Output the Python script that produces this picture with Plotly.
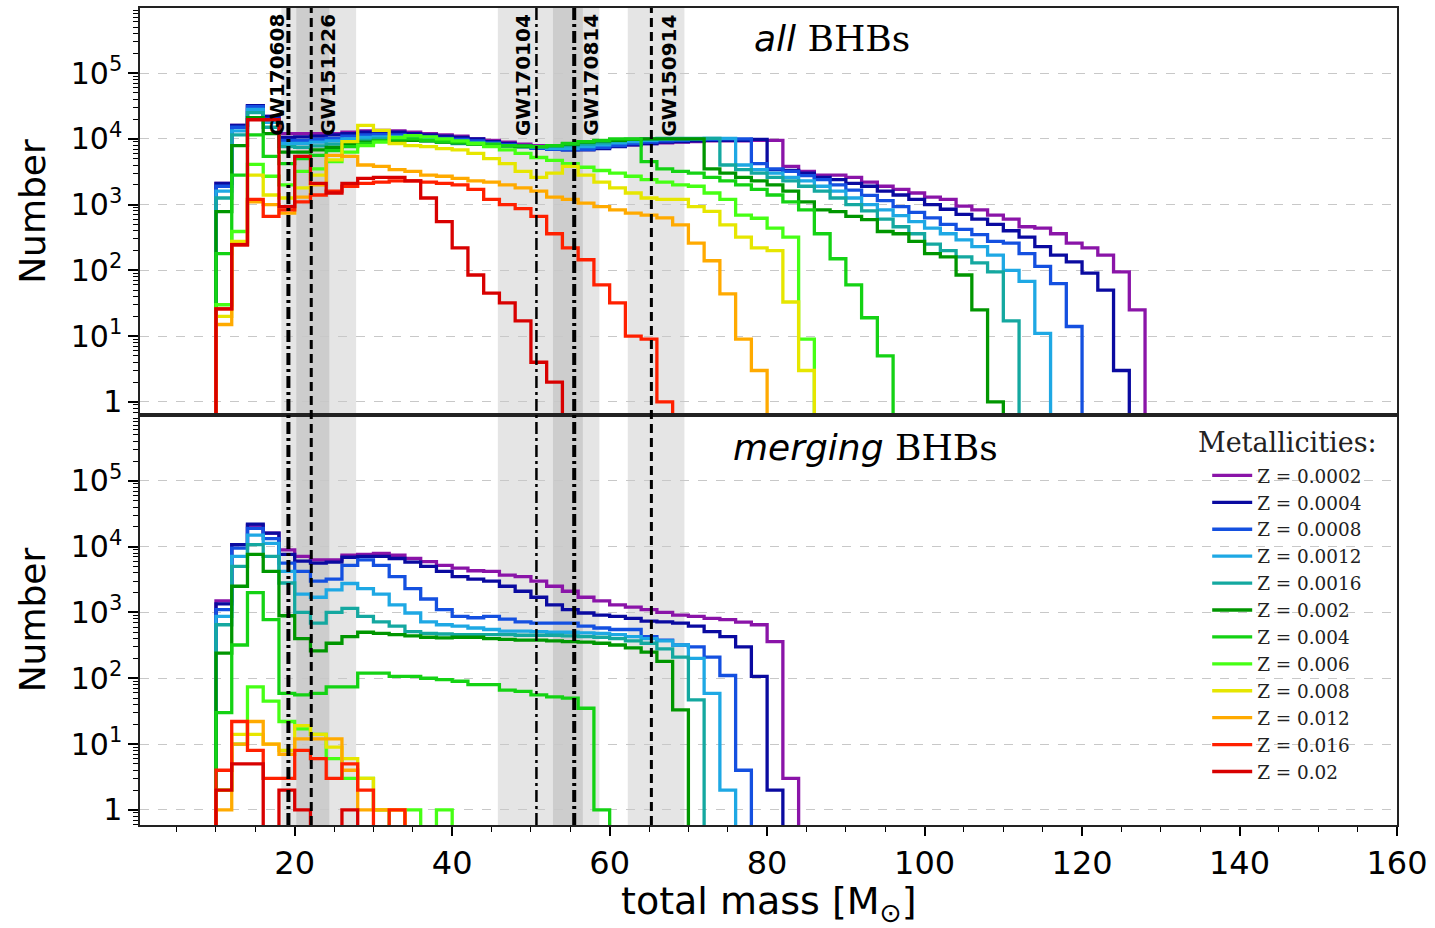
import plotly.graph_objects as go
from plotly.subplots import make_subplots

# ---------------------------------------------------------------- data
bin_start = 10      # first bin edge [M_sun]
bin_width = 2       # histogram bin width [M_sun]

metallicity_labels = ["Z = 0.0002", "Z = 0.0004", "Z = 0.0008", "Z = 0.0012",
                      "Z = 0.0016", "Z = 0.002", "Z = 0.004", "Z = 0.006",
                      "Z = 0.008", "Z = 0.012", "Z = 0.016", "Z = 0.02"]

# ---- all BHBs: counts per 2 M_sun bin, starting at 10 M_sun
all_Z0002 = [2100, 16000, 32000, 22000, 12000, 12000, 12000, 12000, 12600, 13200,
             13500, 13200, 12600, 12000, 11500, 11000, 10000, 9500, 8900, 8300,
             7900, 7600, 7200, 7200, 7400, 7800, 8100, 8500, 8700, 8900,
             9100, 9300, 9300, 9300, 9500, 9500, 3800, 3200, 2800, 2800,
             2600, 2200, 1900, 1700, 1500, 1300, 1200, 950, 830, 690,
             600, 460, 440, 360, 260, 220, 170, 95, 25]
all_Z0004 = [2100, 16000, 32000, 22000, 10500, 10700, 11000, 11500, 12000, 12600,
             12900, 12600, 12000, 11500, 11000, 10500, 10000, 9100, 8500, 7900,
             7400, 7100, 6800, 6800, 7100, 7600, 8100, 8500, 8900, 9100,
             9300, 9500, 9500, 9500, 9800, 3400, 3300, 3000, 2600, 2400,
             2100, 1900, 1600, 1400, 1200, 1000, 850, 710, 600, 500,
             400, 320, 230, 170, 135, 91, 50, 3]
all_Z0008 = [1900, 15000, 31000, 20000, 9500, 9500, 9800, 10200, 11000, 11500,
             11700, 11500, 11200, 10700, 10200, 9800, 9300, 8700, 8100, 7600,
             7200, 6900, 6800, 6900, 7400, 7900, 8500, 8900, 9300, 9500,
             9800, 9800, 10000, 10000, 4200, 3500, 3200, 2750, 2400, 2000,
             1660, 1380, 1150, 930, 760, 630, 500, 420, 350, 275,
             260, 180, 115, 63, 14]
all_Z0012 = [1600, 13200, 28000, 17800, 8500, 8500, 8900, 9300, 10000, 10500,
             10700, 10700, 10500, 10000, 9500, 9100, 8700, 8300, 7900, 7600,
             7400, 7200, 7200, 7600, 8100, 8700, 9100, 9500, 9800, 10000,
             10000, 10200, 10200, 4000, 3400, 3000, 2600, 2300, 1900, 1600,
             1260, 1000, 830, 680, 550, 440, 360, 290, 230, 170,
             100, 68, 11]
all_Z0016 = [1260, 11500, 25000, 15000, 7600, 7400, 7800, 8300, 8900, 9500,
             10000, 10000, 9800, 9300, 8900, 8500, 8300, 7900, 7800, 7600,
             7600, 7800, 7900, 8300, 8700, 9300, 9800, 10000, 10200, 10200,
             10200, 10200, 4000, 3400, 3000, 2600, 2300, 1900, 1600, 1260,
             1000, 800, 600, 460, 360, 250, 200, 160, 130, 95,
             17]
all_Z002 = [780, 7900, 21000, 12000, 6300, 6300, 6800, 7400, 8300, 8900,
            9300, 9500, 9500, 9300, 8900, 8700, 8300, 7900, 7800, 7600,
            7600, 7900, 8300, 8900, 9300, 9500, 9800, 10000, 10000, 10000,
            10000, 3500, 3000, 2600, 2300, 2000, 1600, 1100, 830, 780,
            660, 590, 390, 360, 275, 180, 160, 85, 25, 1]
all_Z004 = [180, 2800, 11500, 5400, 4200, 5000, 5600, 6600, 7600, 8500,
            9300, 10000, 10000, 9500, 9100, 8900, 8500, 8300, 7900, 7800,
            7600, 7900, 8500, 9100, 9500, 10000, 10000, 4500, 3500, 3200,
            3000, 2600, 2300, 2000, 1700, 1400, 1100, 830, 360, 150,
            60, 19, 5]
all_Z006 = [30, 390, 4100, 2700, 2000, 3200, 3500, 4500, 6300, 7900,
            8900, 10500, 11200, 10700, 10000, 9300, 8500, 7600, 6800, 6000,
            5200, 4700, 4200, 3700, 3300, 3000, 2700, 2400, 2200, 2000,
            1900, 1500, 1200, 690, 620, 440, 320, 9]
all_Z008 = [20, 275, 2800, 1400, 1260, 1800, 2800, 4800, 9100, 16000,
            13500, 8500, 7900, 7600, 7100, 6800, 6000, 5000, 4200, 3200,
            2600, 3000, 3800, 2800, 2200, 1800, 1500, 1260, 1200, 1200,
            930, 790, 490, 320, 220, 200, 33, 3]
all_Z012 = [15, 250, 1100, 1000, 740, 1300, 2000, 5600, 5400, 4000,
            3800, 3400, 3200, 2800, 2700, 2500, 2300, 2200, 2000, 1800,
            1600, 1300, 1200, 1050, 930, 830, 740, 690, 630, 490,
            260, 140, 44, 9, 3]
all_Z016 = [26, 245, 1200, 660, 830, 1100, 1400, 1600, 1900, 2100,
            2200, 2300, 2300, 2200, 2100, 2000, 1700, 1200, 1000, 870,
            660, 360, 220, 145, 60, 32, 10, 9, 1]
all_Z02 = [26, 245, 19500, 19500, 930, 5400, 2100, 1500, 2100, 2500,
           2600, 2600, 2300, 1260, 550, 220, 85, 45, 32, 17,
           4, 2]

# ---- merging BHBs: counts per 2 M_sun bin, starting at 10 M_sun
merging_Z0002 = [1500, 10700, 21000, 16000, 8900, 7100, 6300, 6300, 7400, 7600,
                 7900, 7400, 6600, 5900, 5200, 4700, 4300, 4200, 3700, 3500,
                 3000, 2500, 2100, 1700, 1500, 1300, 1200, 1100, 1000, 910,
                 870, 810, 780, 710, 650, 360, 3]
merging_Z0004 = [1350, 10700, 22000, 16000, 7600, 6000, 5600, 5800, 6900, 7100,
                 7100, 6600, 5800, 5000, 4200, 3500, 3200, 3000, 2500, 2100,
                 1700, 1300, 1100, 980, 910, 870, 810, 740, 720, 690,
                 620, 510, 430, 300, 107, 2]
merging_Z0008 = [1100, 9500, 19000, 13200, 5600, 4200, 3000, 3200, 5200, 6300,
                 5200, 3500, 2300, 1600, 1100, 870, 830, 870, 790, 720,
                 690, 690, 690, 620, 580, 550, 550, 430, 380, 320,
                 300, 210, 110, 4]
merging_Z0012 = [870, 7100, 15000, 11200, 4200, 1900, 1700, 2200, 2750, 2300,
                 1900, 1300, 980, 720, 650, 620, 580, 550, 520, 520,
                 510, 500, 500, 490, 480, 460, 430, 400, 370, 320,
                 200, 59, 2]
merging_Z0016 = [650, 5000, 10700, 7100, 2800, 1000, 690, 1000, 1150, 870,
                 720, 620, 510, 480, 470, 460, 460, 460, 460, 450,
                 450, 450, 440, 430, 420, 400, 370, 340, 280, 210,
                 47]
merging_Z002 = [240, 2500, 7600, 4200, 890, 400, 260, 340, 430, 500,
                480, 460, 440, 420, 410, 420, 420, 400, 390, 380,
                380, 370, 360, 355, 340, 320, 290, 250, 180, 33]
merging_Z004 = [30, 320, 2000, 780, 59, 56, 59, 74, 74, 120,
                120, 107, 107, 100, 95, 90, 80, 80, 66, 63,
                56, 52, 50, 35, 1]
merging_Z006 = [2, 10, 74, 45, 22, 17, 14, 6, 3, 3, 1, 0, 1, 0, 1]
merging_Z008 = [2, 14, 14, 10, 8, 19, 14, 9, 6, 3, 1, 1]
merging_Z012 = [1, 10, 22, 10, 7, 12, 12, 12, 4, 1, 1, 1]
merging_Z016 = [4, 22, 8, 3, 3, 8, 6, 3, 5, 2, 0, 1]
merging_Z02 = [2, 5, 5, 0, 2, 1, 0, 0, 1]

all_series = [all_Z0002, all_Z0004, all_Z0008, all_Z0012, all_Z0016, all_Z002,
              all_Z004, all_Z006, all_Z008, all_Z012, all_Z016, all_Z02]
merging_series = [merging_Z0002, merging_Z0004, merging_Z0008, merging_Z0012,
                  merging_Z0016, merging_Z002, merging_Z004, merging_Z006,
                  merging_Z008, merging_Z012, merging_Z016, merging_Z02]

# ---- LIGO/Virgo events: total mass and credible interval [M_sun]
gw_names = ["GW170608", "GW151226", "GW170104", "GW170814", "GW150914"]
gw_total_mass = [19.2, 22.1, 50.7, 55.5, 65.3]
gw_mass_low = [18.3, 20.2, 45.8, 52.8, 62.3]
gw_mass_high = [24.4, 27.8, 56.6, 58.7, 69.5]

y_tick_values = [1, 10, 100, 1000, 10000, 100000]
y_tick_labels = ["1", "10<sup>1</sup>", "10<sup>2</sup>", "10<sup>3</sup>",
                 "10<sup>4</sup>", "10<sup>5</sup>"]
x_tick_values = [20, 40, 60, 80, 100, 120, 140, 160]

# ---------------------------------------------------------------- style
colors = ["#8a14a8", "#0a0aa0", "#1450e0", "#1ea8e4", "#14a8a0", "#009600",
          "#14d214", "#46ff14", "#e6e600", "#ffaa00", "#ff2000", "#d80000"]
gw_dash = ["12px,4px,3px,4px", "9px,5px", "12px,4px,3px,4px",
           "12px,4px,3px,4px", "9px,5px"]
gw_width = [4, 3, 2.5, 4, 3]
gw_label_offset = [-1.5, 2.1, -1.7, 2.1, 2.3]
FLOOR = 0.1
SANS = "DejaVu Sans"
SERIF = "DejaVu Serif"


def step_xy(counts):
    edges = [bin_start + bin_width * i for i in range(len(counts) + 1)]
    xs = [edges[0]] + edges
    ys = [FLOOR] + [c if c > 0 else FLOOR for c in counts] + [FLOOR]
    return xs, ys


fig = make_subplots(rows=2, cols=1, shared_xaxes=True, vertical_spacing=0,
                    row_heights=[407, 410])

for i, label in enumerate(metallicity_labels):
    for row, data in ((1, all_series[i]), (2, merging_series[i])):
        xs, ys = step_xy(data)
        fig.add_trace(go.Scatter(x=xs, y=ys, mode="lines", name=label,
                                 line=dict(color=colors[i], width=3.3, shape="hv"),
                                 showlegend=(row == 2), legendgroup=label,
                                 hoverinfo="skip"),
                      row=row, col=1)

# shaded credible intervals (both panels)
for lo, hi in zip(gw_mass_low, gw_mass_high):
    for xr, yr in (("x", "y domain"), ("x2", "y2 domain")):
        fig.add_shape(type="rect", xref=xr, yref=yr, x0=lo, x1=hi, y0=0, y1=1,
                      fillcolor="rgba(0,0,0,0.1)", line_width=0, layer="below")

# event lines and labels
for name, m, dash, w, off in zip(gw_names, gw_total_mass, gw_dash, gw_width,
                                 gw_label_offset):
    fig.add_shape(type="line", xref="x2", yref="paper", x0=m, x1=m, y0=0, y1=1,
                  line=dict(color="black", width=w, dash=dash), layer="above")
    fig.add_annotation(x=m + off, xref="x", y=0.99, yref="y domain",
                       text="<b>" + name + "</b>",
                       textangle=-90, xanchor="center", yanchor="top",
                       showarrow=False,
                       font=dict(family=SANS, size=20, color="black"))

fig.add_annotation(x=88.3, xref="x", y=0.925, yref="y domain",
                   text="<span style='font-family:DejaVu Sans;font-style:italic'>all</span> BHBs",
                   showarrow=False, xanchor="center", yanchor="middle",
                   font=dict(family=SERIF, size=36, color="black"))
fig.add_annotation(x=92.5, xref="x2", y=0.92, yref="y2 domain",
                   text="<span style='font-family:DejaVu Sans;font-style:italic'>merging</span> BHBs",
                   showarrow=False, xanchor="center", yanchor="middle",
                   font=dict(family=SERIF, size=36, color="black"))

# x-axis title placed as an annotation below the tick labels
fig.add_annotation(x=0.5, xref="paper", y=-0.0955, yref="paper",
                   text="total mass [M<sub>⊙</sub>]", showarrow=False,
                   xanchor="center", yanchor="middle",
                   font=dict(family=SANS, size=38, color="black"))

# legend heading
fig.add_annotation(x=0.9125, xref="paper", y=0.4676, yref="paper",
                   text="Metallicities:", showarrow=False,
                   xanchor="center", yanchor="middle",
                   font=dict(family=SERIF, size=27, color="#222222"))

minor_y = [k * 10 ** e for e in range(-1, 7) for k in range(2, 10)]
yaxis_common = dict(
    type="log", tickmode="array", tickvals=y_tick_values, ticktext=y_tick_labels,
    tickfont=dict(family=SANS, size=30, color="black"),
    ticks="outside", ticklen=10, tickwidth=1.5, tickcolor="black",
    showline=True, linecolor="#222222", linewidth=1.5, mirror=True,
    showgrid=True, gridcolor="#c8c8c8", griddash="dash", gridwidth=1,
    zeroline=False, automargin=False,
    minor=dict(tickmode="array", tickvals=minor_y, ticks="outside", ticklen=5,
               tickwidth=1, tickcolor="black", showgrid=False),
    title=dict(text="Number", font=dict(family=SANS, size=36, color="black"),
               standoff=14),
)
fig.update_yaxes(**yaxis_common)
fig.update_yaxes(range=[-0.2, 5.99], row=1, col=1)
fig.update_yaxes(range=[-0.23, 6.0], row=2, col=1)

fig.update_xaxes(range=[0.35, 160], showline=True, linecolor="#222222",
                 linewidth=1.5, mirror=True, showgrid=False, zeroline=False,
                 automargin=False)
fig.update_xaxes(showticklabels=False, ticks="", row=1, col=1)
fig.update_xaxes(tickmode="array", tickvals=x_tick_values,
                 tickfont=dict(family=SANS, size=32, color="black"),
                 ticks="outside", ticklen=9, tickwidth=1.5, tickcolor="black",
                 minor=dict(dtick=5, tick0=0, ticks="outside", ticklen=5,
                            tickwidth=1, tickcolor="black", showgrid=False),
                 row=2, col=1)

fig.update_layout(
    width=1435, height=928,
    margin=dict(l=140, r=38, t=8, b=103),
    paper_bgcolor="white", plot_bgcolor="white",
    legend=dict(x=0.849, y=0.4505, xanchor="left", yanchor="top",
                bgcolor="rgba(0,0,0,0)", borderwidth=0,
                font=dict(family=SERIF, size=18.4, color="#222222"),
                tracegroupgap=0, itemwidth=40),
    font=dict(family=SANS, color="black"),
)

fig.write_html("out.html")
